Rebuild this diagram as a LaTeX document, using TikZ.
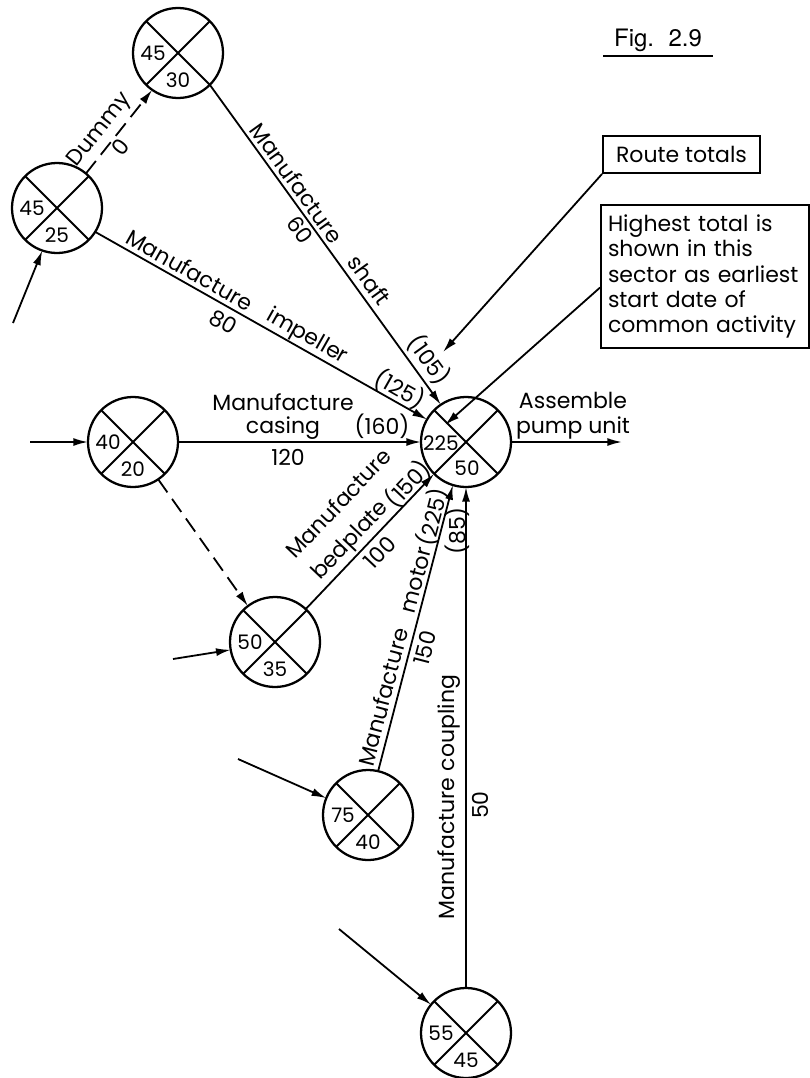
\documentclass[tikz,border=0pt]{standalone}
\usepackage{fontspec}
\setmainfont{Poppins}
\newfontfamily\figfont{TeX Gyre Heros}
\usetikzlibrary{arrows.meta,calc}
\begin{document}
\begin{tikzpicture}[x=0.75pt,y=-0.75pt,
  ev/.style={circle,draw,line width=1.7pt,minimum size=67.5pt,inner sep=0pt,outer sep=0pt},
  num/.style={font=\fontsize{15}{18}\selectfont,inner sep=0pt},
  lab/.style={font=\fontsize{16.5}{19}\selectfont,inner sep=0pt},
  act/.style={line width=1.35pt,-{Latex[length=11pt,width=6pt]}},
  dum/.style={act,dash pattern=on 12pt off 6pt},
  note/.style={draw,line width=1.4pt,font=\fontsize{16.5}{19}\selectfont}
]
\useasboundingbox (0,0) rectangle (810,1078);
% events
\node[ev] (N1) at (178,53) {};
\node[ev] (N2) at (57,208) {};
\node[ev] (N3) at (133,442) {};
\node[ev] (N4) at (275,642) {};
\node[ev] (N5) at (466,442) {};
\node[ev] (N6) at (368,815) {};
\node[ev] (N7) at (466,1033) {};
\foreach \n in {N1,N2,N3,N4,N5,N6,N7}{
  \draw[line width=1.4pt] (\n.north west) -- (\n.south east) (\n.south west) -- (\n.north east);
}
% sector numbers
\path (N1) ++(-25,0) node[num] (N1a) {45} (N1) ++(0,27) node[num] (N1b) {30};
\path (N2) ++(-25,0) node[num] (N2a) {45} (N2) ++(0,27) node[num] (N2b) {25};
\path (N3) ++(-25,0) node[num] (N3a) {40} (N3) ++(0,27) node[num] (N3b) {20};
\path (N4) ++(-25,0) node[num] (N4a) {50} (N4) ++(0,27) node[num] (N4b) {35};
\path (N5) ++(-25,1) node[num] (N5a) {225} (N5) ++(1,26) node[num] (N5b) {50};
\path (N6) ++(-25,0) node[num] (N6a) {75} (N6) ++(0,27) node[num] (N6b) {40};
\path (N7) ++(-25,0) node[num] (N7a) {55} (N7) ++(0,27) node[num] (N7b) {45};
% free ends
\coordinate (i2) at (13,323);
\coordinate (i3) at (30,442);
\coordinate (i4) at (173,659);
\coordinate (i6) at (238,759);
\coordinate (i7) at (339,929);
\coordinate (out) at (622,442);
\coordinate (t1) at (443,352);
\coordinate (t2) at (445,425);
% incoming
\draw[act] (i2) -- (N2.-109);
\draw[act] (i3) -- (N3.west);
\draw[act] (i4) -- (N4.190);
\draw[act] (i6) -- (N6.158);
\draw[act] (i7) -- (N7.141);
% activities
\draw[dum] (N2.50) -- (N1.-125);
\draw[act] (N1.-45) -- (N5.124);
\draw[act] (N2.-32) -- (N5.150);
\draw[act] (N3.east) -- (N5.west);
\draw[dum] (N3.-56) -- (N4.127);
\draw[act] (N4.47) -- (N5.-135);
\draw[act] (N6.77) -- (N5.-107);
\draw[act] (N7.north) -- (N5.south);
\draw[act] (N5.east) -- (out);
% labels
\node[lab,rotate=51.6] (lD) at (100,130) {Dummy};
\node[lab,rotate=51.6] (lD0) at (120,147) {0};
\node[lab,rotate=-54.2] (lS1) at (297,183) {Manufacture};
\node[lab,rotate=-54.2] (lS2) at (370,280) {shaft};
\node[lab,rotate=-54.2] (lS3) at (300,230) {60};
\node[lab,rotate=-54.2] (lS4) at (429,360) {(105)};
\node[lab,rotate=-29.5] (lI1) at (190,270) {Manufacture};
\node[lab,rotate=-29.5] (lI2) at (307,337) {impeller};
\node[lab,rotate=-29.5] (lI3) at (223,322) {80};
\node[lab,rotate=-29.5] (lI4) at (400,389) {(125)};
\node[lab,anchor=base] (lC1) at (283,410) {Manufacture};
\node[lab,anchor=base] (lC2) at (283,433) {casing};
\node[lab] (lC3) at (382,426) {(160)};
\node[lab] (lC4) at (288,457) {120};
\node[lab,rotate=46.5] (lB1) at (338,503) {Manufacture};
\node[lab,rotate=46.5] (lB2) at (351,541) {bedplate};
\node[lab,rotate=46.5] (lB3) at (408,484) {(150)};
\node[lab,rotate=46.5] (lB4) at (380,552) {100};
\node[lab,rotate=75.4] (lM1) at (383,697) {Manufacture};
\node[lab,rotate=75.4] (lM2) at (416,580) {motor};
\node[lab,rotate=75.4] (lM3) at (433,517) {(225)};
\node[lab,rotate=75.4] (lM4) at (425,648) {150};
\node[lab,rotate=90] (lK1) at (449,797) {Manufacture\hspace{0.3em}coupling};
\node[lab,rotate=90] (lK2) at (457,531) {(85)};
\node[lab,rotate=90] (lK3) at (480,805) {50};
\node[lab,align=center] (lA) at (573,416) {Assemble\\pump unit};
% notes
\node[note,minimum width=117.75pt,minimum height=27.75pt,inner sep=0pt] (RT) at (681.5,154.5) {Route totals};
\node[note,align=left,text width=145.5pt,inner xsep=5.25pt,minimum height=107.25pt] (HT) at (705,276.5)
  {Highest total is\\shown in this\\sector as earliest\\start date of\\common activity};
\draw[act] (RT.south west) -- (t1);
\draw[act] (HT.186) -- (t2);
% figure title
\node[font=\figfont\fontsize{18}{20}\selectfont,inner sep=0pt] (FIG) at (658,40) {Fig.\hspace{0.6em}2.9};
\coordinate (u1) at (603,56);
\coordinate (u2) at (713,56);
\draw[line width=1.8pt] (u1) -- (u2);
\end{tikzpicture}
\end{document}
